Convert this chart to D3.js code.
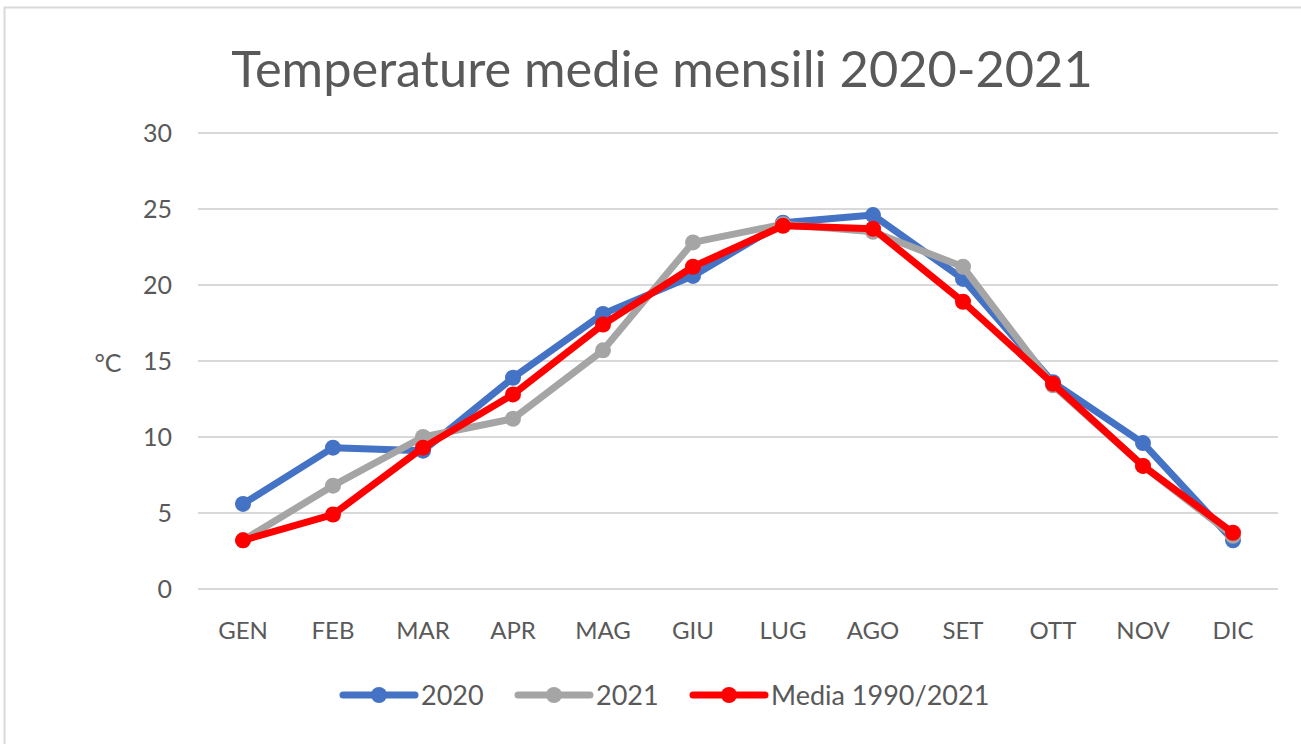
<!DOCTYPE html>
<html>
<head>
<meta charset="utf-8">
<script src="https://cdn.jsdelivr.net/npm/d3@7"></script>
<style>
  body { margin: 0; background: #fff; }
  text { font-family: Lato, "Open Sans", sans-serif; fill: #595959; }
</style>
</head>
<body>
<svg id="chart" width="1301" height="744"></svg>
<script>
const months = ["GEN", "FEB", "MAR", "APR", "MAG", "GIU", "LUG", "AGO", "SET", "OTT", "NOV", "DIC"];
const yTicks = [0, 5, 10, 15, 20, 25, 30];
const temp2020 = [5.6, 9.3, 9.1, 13.9, 18.1, 20.6, 24.1, 24.6, 20.4, 13.6, 9.6, 3.2];
const temp2021 = [3.2, 6.8, 10.0, 11.2, 15.7, 22.8, 24.0, 23.5, 21.2, 13.4, 8.1, 3.5];
const media = [3.2, 4.9, 9.3, 12.8, 17.4, 21.2, 23.9, 23.7, 18.9, 13.5, 8.1, 3.7];

const series = [
    { name: "2020", values: temp2020, color: "#4472C4" },
    { name: "2021", values: temp2021, color: "#A5A5A5" },
    { name: "Media 1990/2021", values: media, color: "#FF0000" }
];

const svg = d3.select("#chart");
const plot = { left: 198, right: 1278, top: 133, bottom: 589 };

// chart frame
svg.append("rect").attr("x", 4.5).attr("y", 7.5).attr("width", 1310).attr("height", 760)
    .attr("fill", "none").attr("stroke", "#d9d9d9").attr("stroke-width", 2);

const x = d3.scaleBand().domain(months).range([plot.left, plot.right]);
const y = d3.scaleLinear().domain([0, 30]).range([plot.bottom, plot.top]);

// gridlines
svg.append("g").selectAll("line").data(yTicks).enter().append("line")
    .attr("x1", plot.left).attr("x2", plot.right)
    .attr("y1", d => y(d)).attr("y2", d => y(d))
    .attr("stroke", "#d9d9d9").attr("stroke-width", 2);

// y axis labels
svg.append("g").selectAll("text").data(yTicks).enter().append("text")
    .attr("x", 172).attr("y", d => y(d) + 9).attr("text-anchor", "end")
    .style("font-size", "25px").text(d => d);

// x axis labels
svg.append("g").selectAll("text").data(months).enter().append("text")
    .attr("x", d => x(d) + x.bandwidth() / 2).attr("y", 639).attr("text-anchor", "middle")
    .style("font-size", "24px").text(d => d);

// unit label
svg.append("text").attr("x", 108).attr("y", 372).attr("text-anchor", "middle")
    .style("font-size", "25px").text("°C");

// title
svg.append("text").attr("x", 662).attr("y", 87).attr("text-anchor", "middle")
    .style("font-size", "50.5px").text("Temperature medie mensili 2020-2021");

const line = d3.line().x((d, i) => x(months[i]) + x.bandwidth() / 2).y(d => y(d));

series.forEach(s => {
    const g = svg.append("g");
    g.append("path").datum(s.values).attr("d", line)
        .attr("fill", "none").attr("stroke", s.color).attr("stroke-width", 7)
        .attr("stroke-linejoin", "round").attr("stroke-linecap", "round");
    g.selectAll("circle").data(s.values).enter().append("circle")
        .attr("cx", (d, i) => x(months[i]) + x.bandwidth() / 2).attr("cy", d => y(d))
        .attr("r", 8).attr("fill", s.color);
});

// legend
const legendX = [343, 518, 693];
const legend = svg.append("g").selectAll("g").data(series).enter().append("g")
    .attr("transform", (d, i) => `translate(${legendX[i]},695)`);
legend.append("line").attr("x1", 0).attr("x2", 72).attr("y1", 0).attr("y2", 0)
    .attr("stroke", d => d.color).attr("stroke-width", 7).attr("stroke-linecap", "round");
legend.append("circle").attr("cx", 36).attr("cy", 0).attr("r", 8).attr("fill", d => d.color);
legend.append("text").attr("x", 78).attr("y", 10).style("font-size", "27px").text(d => d.name);
</script>
</body>
</html>
